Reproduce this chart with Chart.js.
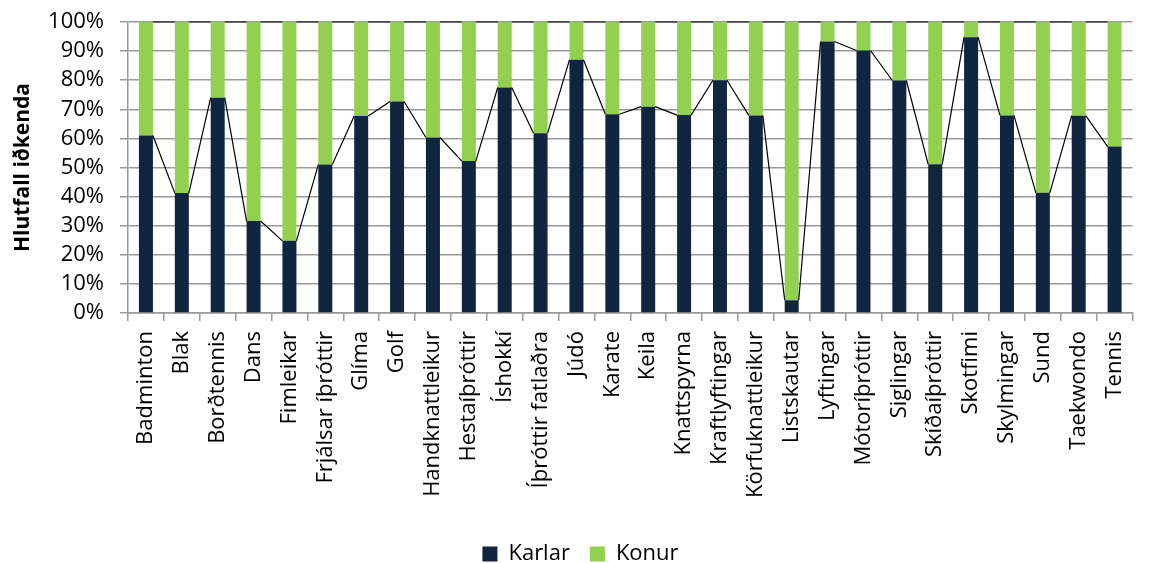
<!DOCTYPE html>
<html lang="is">
<head>
    <meta charset="UTF-8">
    <title>Hlutfall iðkenda</title>
    <style>
        body { margin: 0; background: #fff; }
        #wrap { width: 1151px; height: 563px; }
    </style>
</head>
<body>
    <div id="wrap">
        <canvas id="chart" width="1151" height="563"></canvas>
    </div>
    <script src="https://cdn.jsdelivr.net/npm/chart.js@4/dist/chart.umd.min.js"></script>
    <script>
        var sports = ['Badminton', 'Blak', 'Borðtennis', 'Dans', 'Fimleikar', 'Frjálsar íþróttir', 'Glíma', 'Golf',
            'Handknattleikur', 'Hestaíþróttir', 'Íshokkí', 'Íþróttir fatlaðra', 'Júdó', 'Karate', 'Keila',
            'Knattspyrna', 'Kraftlyftingar', 'Körfuknattleikur', 'Listskautar', 'Lyftingar', 'Mótoríþróttir',
            'Siglingar', 'Skíðaíþróttir', 'Skotfimi', 'Skylmingar', 'Sund', 'Taekwondo', 'Tennis'];

        // hlutfall karla og kvenna (%)
        var karlar = [61.0, 41.2, 74.0, 31.6, 24.8, 51.0, 67.7, 72.7, 60.3, 52.2, 77.5, 61.8, 87.0, 68.3,
            70.9, 68.0, 80.0, 67.9, 4.4, 93.3, 90.2, 79.9, 51.1, 94.8, 67.9, 41.3, 67.8, 57.2];
        var konur = [39.0, 58.8, 26.0, 68.4, 75.2, 49.0, 32.3, 27.3, 39.7, 47.8, 22.5, 38.2, 13.0, 31.7,
            29.1, 32.0, 20.0, 32.1, 95.6, 6.7, 9.8, 20.1, 48.9, 5.2, 32.1, 58.7, 32.2, 42.8];

        var yMin = 0, yMax = 100, yStep = 10;

        var FONT = "'Open Sans', sans-serif";

        // series lines like in excel: from top right of one bar to top left of next
        var seriesLines = {
            id: 'seriesLines',
            afterDatasetsDraw: function (chart) {
                var ctx = chart.ctx;
                ctx.save();
                ctx.strokeStyle = '#000';
                ctx.lineWidth = 1.2;
                chart.data.datasets.forEach(function (ds, d) {
                    var bars = chart.getDatasetMeta(d).data;
                    ctx.beginPath();
                    for (var i = 0; i < bars.length - 1; i++) {
                        var a = bars[i], b = bars[i + 1];
                        ctx.moveTo(a.x + a.width / 2, a.y);
                        ctx.lineTo(b.x - b.width / 2, b.y);
                    }
                    ctx.stroke();
                });
                ctx.restore();
            }
        };

        // legend sits lower, close to the bottom edge
        var legendTight = {
            id: 'legendTight',
            beforeInit: function (chart) {
                var fit = chart.legend.fit;
                chart.legend.fit = function () {
                    fit.bind(chart.legend)();
                    this.height -= 12;
                };
            }
        };

        var config = {
            type: 'bar',
            data: {
                labels: sports,
                datasets: [{
                    label: 'Karlar',
                    data: karlar,
                    backgroundColor: '#10253f',
                    barPercentage: 0.39,
                    categoryPercentage: 1
                }, {
                    label: 'Konur',
                    data: konur,
                    backgroundColor: '#92d050',
                    barPercentage: 0.39,
                    categoryPercentage: 1
                }]
            },
            options: {
                responsive: false,
                animation: false,
                layout: { padding: { top: 22, right: 0, bottom: 0, left: 10 } },
                plugins: {
                    tooltip: { enabled: false },
                    legend: {
                        position: 'bottom',
                        labels: {
                            boxWidth: 15,
                            boxHeight: 15,
                            padding: 20,
                            color: '#000',
                            font: { family: FONT, size: 22 }
                        }
                    }
                },
                scales: {
                    x: {
                        stacked: true,
                        afterFit: function (scale) { scale.height = 210; },
                        border: { color: '#999', width: 1.5 },
                        grid: { drawOnChartArea: false, color: '#999', lineWidth: 1.5, tickLength: 8 },
                        ticks: {
                            minRotation: 90,
                            maxRotation: 90,
                            autoSkip: false,
                            padding: 10,
                            color: '#000',
                            font: { family: FONT, size: 22 }
                        }
                    },
                    y: {
                        stacked: true,
                        min: yMin,
                        max: yMax,
                        afterFit: function (scale) {
                            scale.width = 118;
                            scale.paddingTop = 0;
                            scale.paddingBottom = 0;
                        },
                        border: { color: '#999', width: 1.5 },
                        grid: { color: '#999', lineWidth: 1.5, tickLength: 8 },
                        title: {
                            display: true,
                            text: 'Hlutfall iðkenda',
                            color: '#000',
                            font: { family: FONT, size: 21, weight: 'bold' },
                            padding: { top: 0, bottom: 0 }
                        },
                        ticks: {
                            stepSize: yStep,
                            autoSkip: false,
                            padding: 16,
                            color: '#000',
                            font: { family: FONT, size: 22 },
                            callback: function (v) { return v + '%'; }
                        }
                    }
                }
            },
            plugins: [seriesLines, legendTight]
        };

        var ctx = document.getElementById('chart').getContext('2d');
        window.myBar = new Chart(ctx, config);
    </script>
</body>
</html>
